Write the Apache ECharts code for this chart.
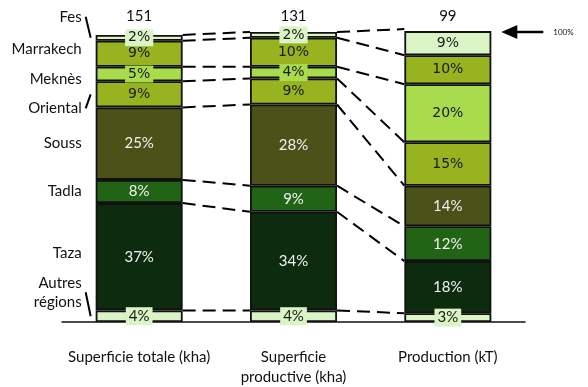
<!DOCTYPE html>
<html>
<head>
<meta charset="utf-8">
<script src="https://cdn.jsdelivr.net/npm/echarts@6/dist/echarts.min.js"></script>
<style>
  html, body { margin: 0; padding: 0; background: #fff; }
  #chart { width: 588px; height: 387px; }
</style>
</head>
<body>
<div id="chart"></div>
<script>
// Columns and their totals
const columns = ['Superficie totale (kha)', 'Superficie\nproductive (kha)', 'Production (kT)'];
const totals = ['151', '131', '99'];

// Regions, listed from the bottom of each stack to the top
const regions = ['Autres\nrégions', 'Taza', 'Tadla', 'Souss', 'Oriental', 'Meknès', 'Marrakech', 'Fes'];

// Share of each region (%) in each column
const autresShares    = [4, 4, 3];
const tazaShares      = [37, 34, 18];
const tadlaShares     = [8, 9, 12];
const soussShares     = [25, 28, 14];
const orientalShares  = [9, 9, 15];
const meknesShares    = [5, 4, 20];
const marrakechShares = [9, 10, 10];
const fesShares       = [2, 2, 9];

const shareRows = [autresShares, tazaShares, tadlaShares, soussShares,
                   orientalShares, meknesShares, marrakechShares, fesShares];

// Styling per region (same order as regions)
const fills = ['#daf4c6', '#0d2b0e', '#226416', '#4a5119', '#97b31f', '#a9dc4c', '#97b31f', '#daf4c6'];
const textFills = ['#1a1a1a', '#f2f2f2', '#f2f2f2', '#f2f2f2', '#1a1a1a', '#1a1a1a', '#1a1a1a', '#1a1a1a'];
const labelFonts = ['Lato', 'Lato', 'Lato', 'Lato', 'DejaVu Sans', 'DejaVu Sans', 'DejaVu Sans', 'DejaVu Sans'];
// vertical shift of the region names away from their segment centres, and which ones get a pointer
const nameShift = [-24, -4, 0, 0, 14, 5, -5, -21];
const namePointer = [true, false, false, false, true, false, false, true];

const BAR_W = 87;
const HALF = BAR_W / 2;

function cumulative(col) {
  const out = [0];
  let s = 0;
  shareRows.forEach(r => { s += r[col]; out.push(s); });
  return out;
}

const barSeries = regions.map((name, i) => ({
  name: name,
  type: 'bar',
  stack: 'all',
  barWidth: BAR_W,
  data: shareRows[i],
  itemStyle: { color: fills[i], borderColor: '#111', borderWidth: 1.8 },
  label: {
    show: true,
    position: 'inside',
    formatter: '{c}%',
    color: textFills[i],
    fontFamily: labelFonts[i],
    fontSize: labelFonts[i] === 'Lato' ? 15 : 14,
    backgroundColor: fills[i],
    padding: [2, 3, 1, 3]
  },
  emphasis: { disabled: true },
  z: 3
}));

// dashed connectors between matching segment boundaries of neighbouring columns
const connectorSeries = {
  type: 'custom',
  coordinateSystem: 'cartesian2d',
  data: [[0], [1]],
  encode: { x: 0 },
  silent: true,
  z: 1,
  renderItem: function (params, api) {
    const c = api.value(0);
    const a = cumulative(c);
    const b = cumulative(c + 1);
    const children = [];
    for (let k = 1; k < a.length; k++) {
      const p1 = api.coord([c, a[k]]);
      const p2 = api.coord([c + 1, b[k]]);
      children.push({
        type: 'line',
        shape: { x1: p1[0] + HALF, y1: p1[1], x2: p2[0] - HALF, y2: p2[1] },
        style: { stroke: '#000', lineWidth: 2, lineDash: [13, 7] }
      });
    }
    return { type: 'group', children: children };
  }
};

// region names on the left of the first column, plus the 100% marker on the right
const annotationSeries = {
  type: 'custom',
  coordinateSystem: 'cartesian2d',
  data: [[0]],
  encode: { x: 0 },
  silent: true,
  z: 4,
  renderItem: function (params, api) {
    const cum = cumulative(0);
    const children = [];
    regions.forEach((name, i) => {
      const mid = api.coord([0, (cum[i] + cum[i + 1]) / 2]);
      const barLeft = mid[0] - HALF;
      const y = mid[1] + nameShift[i];
      children.push({
        type: 'text',
        x: barLeft - 14,
        y: y,
        style: {
          text: name,
          fill: '#111',
          font: '15px Lato',
          align: 'right',
          verticalAlign: 'middle',
          lineHeight: 19
        }
      });
      if (namePointer[i]) {
        children.push({
          type: 'line',
          shape: { x1: barLeft - 10, y1: y, x2: barLeft - 5, y2: mid[1] },
          style: { stroke: '#000', lineWidth: 2 }
        });
      }
    });
    const top = api.coord([2, 100]);
    const right = top[0] + HALF;
    children.push({
      type: 'line',
      shape: { x1: right + 24, y1: top[1], x2: right + 52, y2: top[1] },
      style: { stroke: '#000', lineWidth: 2.5 }
    });
    children.push({
      type: 'polygon',
      shape: { points: [[right + 10, top[1]], [right + 26, top[1] - 7], [right + 26, top[1] + 7]] },
      style: { fill: '#000' }
    });
    children.push({
      type: 'text',
      x: right + 62,
      y: top[1],
      style: { text: '100%', fill: '#111', font: '8px Lato', verticalAlign: 'middle' }
    });
    return { type: 'group', children: children };
  }
};

const chart = echarts.init(document.getElementById('chart'), null, { renderer: 'canvas' });
chart.setOption({
  animation: false,
  backgroundColor: '#fff',
  grid: { left: 62, right: 63, top: 32, bottom: 65 },
  xAxis: [
    {
      type: 'category',
      data: columns,
      position: 'bottom',
      axisLine: { lineStyle: { color: '#111', width: 1.5 } },
      axisTick: { show: false },
      axisLabel: { interval: 0, hideOverlap: false, color: '#111', fontFamily: 'Lato', fontSize: 15, lineHeight: 20, margin: 25 }
    },
    {
      type: 'category',
      data: totals,
      position: 'top',
      axisLine: { show: false },
      axisTick: { show: false },
      axisLabel: { interval: 0, color: '#111', fontFamily: 'Lato', fontSize: 15, margin: 8 }
    }
  ],
  yAxis: { type: 'value', min: 0, max: 100, show: false },
  series: barSeries.concat([connectorSeries, annotationSeries])
});
</script>
</body>
</html>
